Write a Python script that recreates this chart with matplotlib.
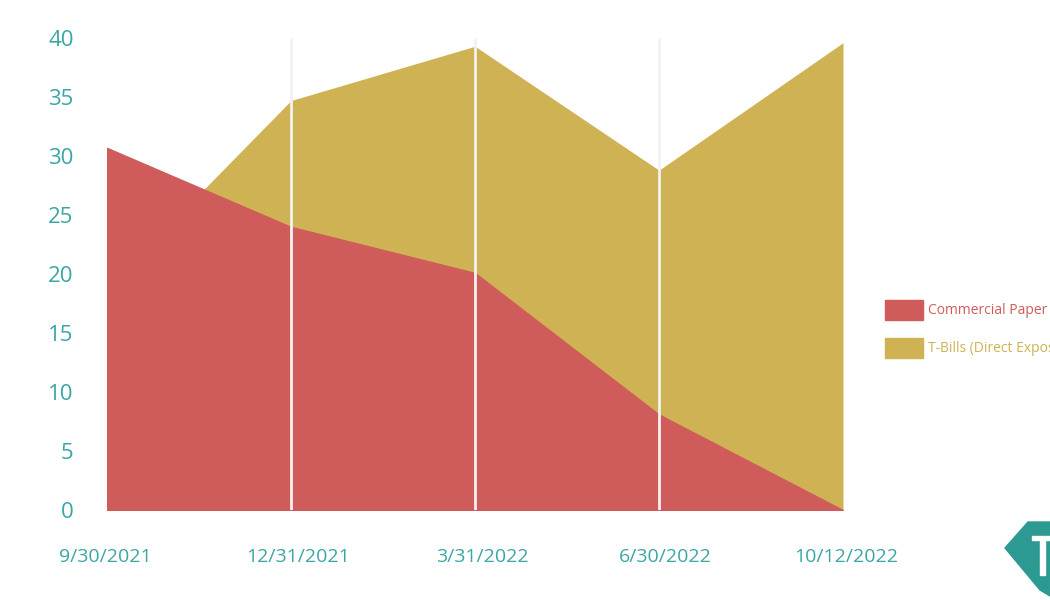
import numpy as np
import matplotlib
matplotlib.use("Agg")
import matplotlib.pyplot as plt
import matplotlib.transforms as mtransforms
from matplotlib.patches import Polygon

dates = ["9/30/2021", "12/31/2021", "3/31/2022", "6/30/2022", "10/12/2022"]
commercial_paper = [30.7, 24.0, 20.1, 8.1, 0.0]
t_bills = [18.8, 34.7, 39.3, 28.8, 39.6]
y_ticks = [0, 5, 10, 15, 20, 25, 30, 35, 40]

teal = "#3aa7a3"
red = "#cf5b5a"
gold = "#cfb253"

plt.rcParams["font.family"] = ["Open Sans", "DejaVu Sans"]

fig = plt.figure(figsize=(10.5, 6), dpi=100)
ax = fig.add_axes([107/1050, 1 - 510/600, (843 - 107)/1050, (510 - 38)/600])

x = np.arange(len(dates))
ax.fill_between(x, 0, t_bills, color=gold, linewidth=0, zorder=1)
ax.fill_between(x, 0, commercial_paper, facecolor=red, edgecolor=red,
                linewidth=0.8, zorder=2)

for xi in x[1:-1]:
    ax.axvline(xi, color="#f2f2f2", lw=2, zorder=3)

ax.set_xlim(0, len(dates) - 1)
ax.set_ylim(0, 40)
ax.set_yticks(y_ticks)
ax.set_yticklabels([str(v) for v in y_ticks], fontsize=16, color=teal)
ax.set_xticks(x)
ax.set_xticklabels(dates, fontsize=14, color=teal)
ax.tick_params(axis="y", length=0, pad=24)
ax.tick_params(axis="x", length=0, pad=27)
for s in ax.spines.values():
    s.set_visible(False)

# the date labels sit a little right of the data points
shifts = [-2, 7, 7, 6, 3]
for lab, dx in zip(ax.get_xticklabels(), shifts):
    lab.set_transform(lab.get_transform() +
                      mtransforms.ScaledTranslation(dx/100, 0, fig.dpi_scale_trans))

# legend (runs off the right edge like the reference)
fig.patches.append(plt.Rectangle((885/1050, 1 - 320/600), 38/1050, 20/600,
                                 transform=fig.transFigure, color=red))
fig.text(928/1050, 1 - 310/600, "Commercial Paper", color=red, fontsize=10, va="center")
fig.patches.append(plt.Rectangle((885/1050, 1 - 358/600), 38/1050, 20/600,
                                 transform=fig.transFigure, color=gold))
fig.text(928/1050, 1 - 348/600, "T-Bills (Direct Exposure)", color=gold, fontsize=10, va="center")

# logo corner
logo = [(1005, 548), (1028, 522), (1050, 522), (1050, 596), (1040, 590)]
fig.patches.append(Polygon([(px/1050, 1 - py/600) for px, py in logo],
                           closed=True, transform=fig.transFigure, color="#2c9a92"))
fig.patches.append(plt.Rectangle((1032/1050, 1 - 540/600), 18/1050, 4/600,
                                 transform=fig.transFigure, color="white"))
fig.patches.append(plt.Rectangle((1040/1050, 1 - 575/600), 5/1050, 35/600,
                                 transform=fig.transFigure, color="white"))

fig.savefig("out.png", dpi=100)
